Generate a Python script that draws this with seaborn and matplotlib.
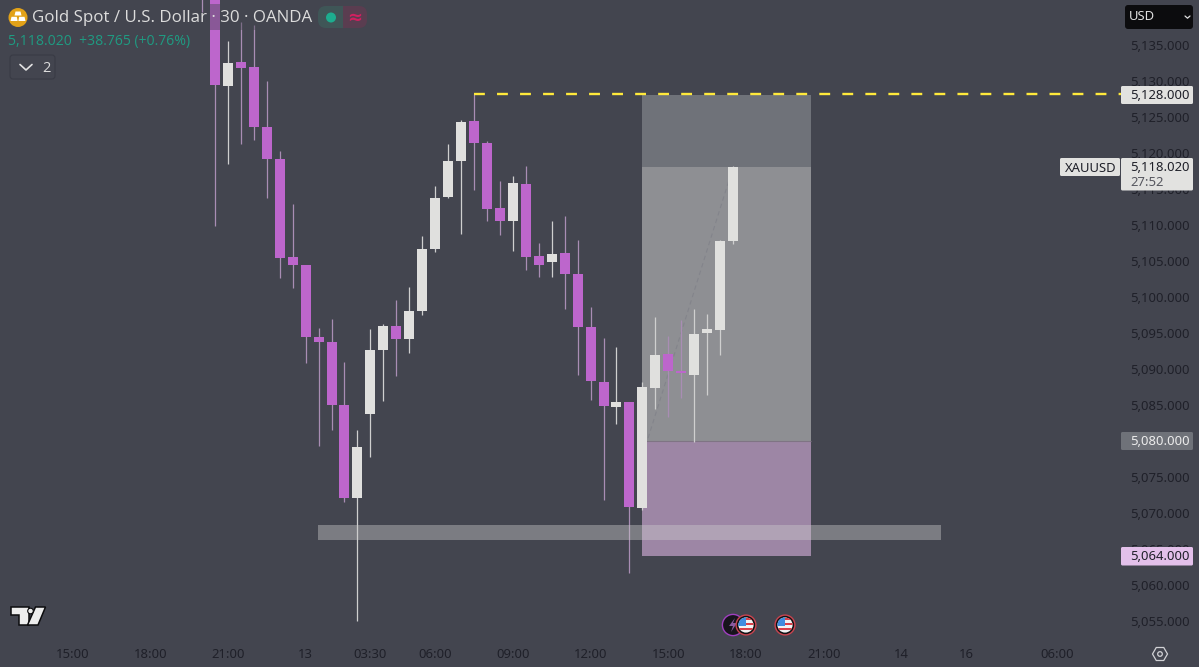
import matplotlib
matplotlib.use("Agg")
import matplotlib.pyplot as plt
from matplotlib.patches import Rectangle, Circle, Polygon, FancyBboxPatch
import numpy as np
import pandas as pd
import seaborn as sns

# ---- data ----
candle_index = list(range(-1, 41))
opens = [5148.2, 5145.4, 5129.3, 5132.6, 5131.9, 5123.6, 5119.2, 5105.6, 5104.4, 5094.4, 5093.7,
         5085.0, 5072.1, 5083.8, 5092.6, 5096.0, 5094.2, 5098.1, 5106.6, 5113.9, 5118.9, 5124.4,
         5121.4, 5112.3, 5110.6, 5115.7, 5105.7, 5104.8, 5106.1, 5103.2, 5095.9, 5088.2, 5084.7,
         5085.4, 5070.7, 5087.4, 5092.1, 5089.7, 5089.2, 5095.0, 5095.4, 5107.8]
closes = [5142.6, 5129.4, 5132.5, 5131.8, 5123.6, 5119.2, 5105.4, 5104.4, 5094.4, 5093.7, 5085.0,
          5072.1, 5079.2, 5092.7, 5096.0, 5094.2, 5098.1, 5106.6, 5113.8, 5118.9, 5124.3, 5121.4,
          5112.2, 5110.6, 5115.8, 5105.6, 5104.5, 5106.0, 5103.2, 5095.9, 5088.3, 5084.9, 5085.4,
          5070.8, 5087.5, 5092.0, 5089.7, 5089.4, 5094.9, 5095.5, 5107.8, 5118.02]
highs = [5150.0, 5146.8, 5135.6, 5138.2, 5137.8, 5130.0, 5120.3, 5112.9, 5104.4, 5095.7, 5097.0,
         5091.0, 5081.5, 5095.6, 5096.3, 5099.6, 5101.4, 5108.5, 5115.4, 5121.2, 5124.6, 5128.2,
         5121.7, 5116.1, 5116.8, 5118.2, 5107.5, 5110.6, 5111.3, 5107.9, 5098.6, 5094.3, 5093.1,
         5085.4, 5088.2, 5097.2, 5094.6, 5096.8, 5098.4, 5097.6, 5107.9, 5118.2]
lows = [5139.6, 5109.9, 5118.5, 5121.3, 5121.8, 5113.8, 5102.6, 5101.3, 5090.9, 5079.3, 5081.5,
        5071.5, 5055.0, 5077.8, 5085.6, 5089.0, 5092.2, 5097.5, 5106.3, 5113.7, 5108.8, 5114.9,
        5110.5, 5108.6, 5106.4, 5103.8, 5102.8, 5102.8, 5098.4, 5089.1, 5085.7, 5071.8, 5082.3,
        5061.6, 5070.4, 5084.4, 5083.3, 5086.0, 5079.9, 5086.4, 5092.0, 5107.4]

price_ticks = [5055, 5060, 5065, 5070, 5075, 5080, 5085, 5090, 5095, 5100, 5105, 5110, 5115, 5120,
               5125, 5130, 5135]
price_labels = [f"{p:,}.000" for p in price_ticks]
time_ticks = [-11, -5, 1, 7, 12, 17, 23, 29, 35, 41, 47, 53, 58, 65]
time_labels = ["15:00", "18:00", "21:00", "13", "03:30", "06:00", "09:00", "12:00", "15:00",
               "18:00", "21:00", "14", "16", "06:00"]

target_price = 5128.1
target_line_price = 5128.25
entry_price = 5118.02
stop_price = 5080.0
low_price = 5064.0
box_left, box_right = 32.97, 46.02
band_low, band_high = 5066.25, 5068.33
band_left, band_right = 7.95, 56.06
line_left, line_right = 20, 70
trend_x = [33.44, 40.0]
trend_y = [5080.4, 5118.0]

BG = "#43454f"
BULL = "#e0e0de"
BEAR = "#bd66cc"
WICK_BULL = "#cfcfcf"
WICK_BEAR = "#a98db4"
DARK = "#1f2029"

sns.set_theme(style="dark", rc={"axes.facecolor": BG, "figure.facecolor": BG})
plt.rcParams["font.family"] = ["Noto Sans", "DejaVu Sans"]

fig = plt.figure(figsize=(11.99, 6.67), dpi=100)
ax = fig.add_axes([0, 0, 1, 1])
ax.set_facecolor(BG)

df = pd.DataFrame({"i": candle_index, "o": opens, "c": closes, "h": highs, "l": lows})
df["dir"] = np.where(df["c"] >= df["o"], "up", "down")

wick = df.melt(id_vars=["i", "dir"], value_vars=["h", "l"], value_name="price")
body = df.melt(id_vars=["i", "dir"], value_vars=["o", "c"], value_name="price")

# zones
ax.add_patch(Rectangle((box_left, entry_price), box_right - box_left, target_price - entry_price,
                       fc="#6f7279", ec="none", zorder=1))
ax.add_patch(Rectangle((box_left, stop_price), box_right - box_left, entry_price - stop_price,
                       fc="#8e8f93", ec="none", zorder=1))
ax.add_patch(Rectangle((box_left, low_price), box_right - box_left, stop_price - low_price,
                       fc="#9d86a5", ec="none", zorder=1))
sns.lineplot(x=[box_left, box_right], y=[stop_price, stop_price], color="#7f7484", linewidth=0.8,
             ax=ax, zorder=1.2, legend=False, solid_capstyle="butt")
sns.lineplot(x=trend_x, y=trend_y, color="#83848b", linewidth=0.8, ax=ax, zorder=1.5, legend=False,
             linestyle=(0, (4, 3)))

# candles
sns.lineplot(data=wick, x="i", y="price", units="i", hue="dir", estimator=None, errorbar=None,
             palette={"up": WICK_BULL, "down": WICK_BEAR}, linewidth=0.9, legend=False, ax=ax,
             zorder=2, solid_capstyle="butt", sort=False)
sns.lineplot(data=body, x="i", y="price", units="i", hue="dir", estimator=None, errorbar=None,
             palette={"up": BULL, "down": BEAR}, linewidth=7.2, legend=False, ax=ax,
             zorder=3, solid_capstyle="butt", sort=False)

# support band
ax.add_patch(Rectangle((band_left, band_low), band_right - band_left, band_high - band_low,
                       fc="#cccccc", alpha=0.41, ec="none", zorder=4))

# target line
sns.lineplot(x=[line_left, line_right], y=[target_line_price, target_line_price], color="#ffe93b",
             linewidth=1.7, ax=ax, zorder=5, legend=False, linestyle=(0, (4.6, 5.15)),
             dash_capstyle="butt")

ax.set_xlim(-16.6, 75.98)
ax.set_ylim(5048.61, 5141.25)
ax.grid(False)
for s in ax.spines.values():
    s.set_visible(False)
ax.set_xlabel("")
ax.set_ylabel("")
ax.yaxis.tick_right()
ax.set_yticks(price_ticks)
ax.set_yticklabels(price_labels)
ax.set_xticks(time_ticks)
ax.set_xticklabels(time_labels)
ax.tick_params(axis="y", direction="in", length=0, pad=-49.6, labelsize=9.4, labelcolor=DARK)
ax.tick_params(axis="x", direction="in", length=0, pad=-13.7, labelsize=9.4, labelcolor=DARK)
for t in ax.get_yticklabels() + ax.get_xticklabels():
    t.set_family(["Noto Sans", "DejaVu Sans"])
    t.set_zorder(6)

# ---- overlay in pixel coordinates for the app chrome ----
ov = fig.add_axes([0, 0, 1, 1], facecolor="none")
ov.set_xlim(0, 1199)
ov.set_ylim(667, 0)
ov.axis("off")


def box(x0, y0, x1, y1, fc, ec="none", r=1.5, lw=0.8, z=10, alpha=1):
    ov.add_patch(FancyBboxPatch((x0 + r, y0 + r), x1 - x0 - 2 * r, y1 - y0 - 2 * r,
                                boxstyle=f"round,pad={r},rounding_size={r}", fc=fc, ec=ec, lw=lw,
                                zorder=z, alpha=alpha))


# header dim strip behind text
ov.add_patch(Rectangle((205, 4), 105, 26, fc=BG, alpha=0.42, ec="none", zorder=8))
# gold icon
ov.add_patch(Circle((18, 17.5), 9.5, fc="#e2a218", ec="none", zorder=10))
ov.add_patch(Polygon([[15.5, 11.5], [20.5, 11.5], [21.5, 15.5], [14.5, 15.5]], fc="white", ec="none", zorder=11))
ov.add_patch(Polygon([[11.5, 16.8], [16.8, 16.8], [17.6, 21], [10.5, 21]], fc="white", ec="none", zorder=11))
ov.add_patch(Polygon([[19.2, 16.8], [24.5, 16.8], [25.5, 21], [18.4, 21]], fc="white", ec="none", zorder=11))

TITLE = "#dcdcdc"
ov.text(32, 18, "Gold Spot / U.S. Dollar · 30 · OANDA", color=TITLE, fontsize=12.2, va="center",
        family=["Open Sans", "DejaVu Sans"], zorder=10)
ov.text(8.5, 41, "5,118.020  +38.765 (+0.76%)", color="#1f9b82", fontsize=10.1, va="center",
        family=["Open Sans", "DejaVu Sans"], zorder=10)

# status pill
box(318, 6, 343, 28, "#3f5657", r=8)
box(343, 6, 367, 28, "#5a3d50", r=8)
ov.add_patch(Rectangle((335, 6), 8, 22, fc="#3f5657", ec="none", zorder=10))
ov.add_patch(Rectangle((343, 6), 8, 22, fc="#5a3d50", ec="none", zorder=10))
ov.add_patch(Circle((331, 17.5), 5, fc="#1dad8f", ec="none", zorder=11))
ov.text(354.5, 17.5, "≈", color="#d02060", fontsize=13, ha="center", va="center", zorder=11,
        family=["DejaVu Sans"], fontweight="bold")

# collapse box
box(10, 55, 55, 79, BG, ec="#393b45", r=3)
ov.plot([20, 26, 32], [64.5, 70, 64.5], color="#e2e2e2", lw=1.2, zorder=11)
ov.text(46, 68, "2", color="#dcdcdc", fontsize=10.5, ha="center", va="center", zorder=11,
        family=["Open Sans", "DejaVu Sans"])

# USD selector
box(1125, 5, 1193, 29, "#0c0c0e", r=3)
ov.text(1129, 17, "USD", color="#e0e0e0", fontsize=9.4, va="center", zorder=11,
        family=["Noto Sans", "DejaVu Sans"])
ov.plot([1185, 1187.5, 1190], [16, 18.2, 16], color="#e0e0e0", lw=0.9, zorder=11)

# price labels
LABEL = "#e2e2e0"
LABEL_FONT = ["Noto Sans", "DejaVu Sans"]
box(1121, 86, 1193, 104, LABEL)
ov.text(1130, 95.5, "5,128.000", color=DARK, fontsize=9.4, va="center", zorder=11, family=LABEL_FONT)
box(1060, 158, 1120, 176, LABEL)
ov.text(1065, 168, "XAUUSD", color=DARK, fontsize=9.4, va="center", zorder=11, family=LABEL_FONT)
box(1121, 158, 1193, 190.5, LABEL)
ov.text(1130, 167.5, "5,118.020", color=DARK, fontsize=9.4, va="center", zorder=11, family=LABEL_FONT)
ov.text(1130, 182, "27:52", color="#55565e", fontsize=9.4, va="center", zorder=11, family=LABEL_FONT)
box(1121, 432, 1193, 450, "#6f7279")
ov.text(1130, 441.5, "5,080.000", color="#ececec", fontsize=9.4, va="center", zorder=11, family=LABEL_FONT)
box(1121, 547, 1193, 565.5, "#e3c0ea")
ov.text(1130, 557, "5,064.000", color=DARK, fontsize=9.4, va="center", zorder=11, family=LABEL_FONT)

# settings hexagon
ang = np.deg2rad(np.arange(0, 360, 60))
ov.add_patch(Polygon(np.c_[1160 + 7.5 * np.cos(ang), 654 + 7.5 * np.sin(ang)], closed=True, fc="none",
                     ec="#d2d2d6", lw=0.9, zorder=11))
ov.add_patch(Circle((1160, 654), 2.3, fc="none", ec="#d2d2d6", lw=0.9, zorder=11))

# logo
lk = dict(fc="#ededed", ec="#0c0c0e", lw=1.1, zorder=11)
ov.add_patch(Polygon([[11, 607], [29, 607], [29, 625], [18.5, 625], [18.5, 615], [11, 615]], **lk))
ov.add_patch(Polygon([[35.5, 607], [45.5, 607], [38, 625], [27.5, 625]], **lk))
ov.add_patch(Circle((30.5, 611), 2.8, fc="#ededed", ec="#0c0c0e", lw=0.8, zorder=12))


# event icons
def flag(cx, cy, z=13):
    ov.add_patch(Circle((cx, cy), 10.6, fc="#c9444f", ec="none", zorder=z))
    ov.add_patch(Circle((cx, cy), 9.2, fc="#111114", ec="none", zorder=z + 0.1))
    clip = Circle((cx, cy), 7.6, fc="#f2f2f2", ec="none", zorder=z + 0.2)
    ov.add_patch(clip)
    for dy in (-7, -2):
        r = Rectangle((cx, cy + dy), 9, 2.4, fc="#d8404a", ec="none", zorder=z + 0.3)
        ov.add_patch(r)
        r.set_clip_path(clip)
    r = Rectangle((cx - 9, cy + 3), 18, 2.4, fc="#d8404a", ec="none", zorder=z + 0.3)
    ov.add_patch(r)
    r.set_clip_path(clip)
    r = Rectangle((cx - 9, cy - 9), 9, 9.5, fc="#3f8de0", ec="none", zorder=z + 0.4)
    ov.add_patch(r)
    r.set_clip_path(clip)


ov.add_patch(Circle((733, 625), 10.6, fc="#17141c", ec="#a03fc0", lw=1.0, zorder=12))
ov.add_patch(Polygon([[735, 618], [729, 626], [733, 626], [731, 632], [737, 623], [733, 623]],
                     fc="#8a5aa0", ec="none", zorder=12.5))
flag(746, 625)
flag(785, 625)

fig.savefig("out.png", dpi=100, facecolor=BG)
